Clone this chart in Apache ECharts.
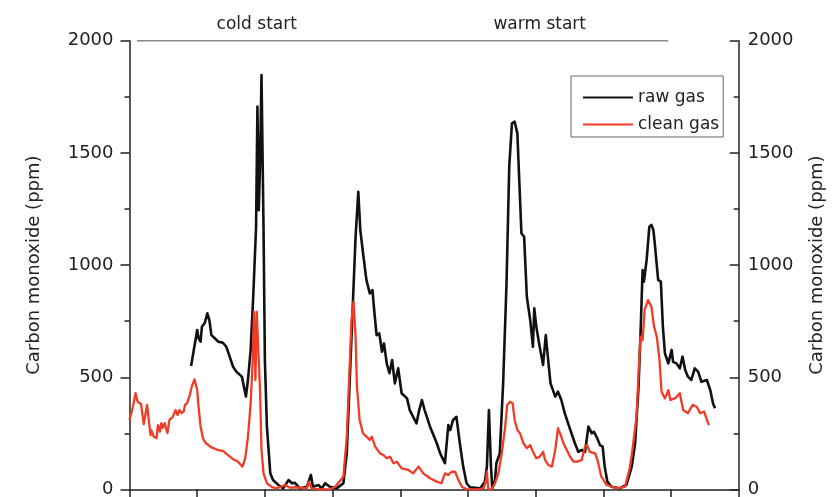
<!DOCTYPE html>
<html>
<head>
<meta charset="utf-8">
<script src="https://cdn.jsdelivr.net/npm/echarts@6/dist/echarts.min.js"></script>
<style>
  html, body { margin: 0; padding: 0; background: #fff; }
  #chart { width: 836px; height: 497px; }
</style>
</head>
<body>
<div id="chart"></div>
<script>
// raw gas (black)
const rawTime = [
  9.1, 9.5, 10.0, 10.2, 10.5, 10.7, 11.1, 11.5, 11.8, 12.1,
  12.6, 13.1, 13.8, 14.3, 14.8, 15.3, 15.8, 16.6, 17.2, 17.5,
  17.9, 18.3, 18.7, 18.9, 19.1, 19.3, 19.5, 19.8, 20.0, 20.3,
  20.8, 21.2, 22.0, 22.7, 23.5, 24.0, 24.4, 25.2, 26.2, 26.8,
  27.1, 27.9, 28.4, 28.9, 29.6, 30.6, 31.6, 32.1, 32.6, 33.0,
  33.4, 33.8, 34.1, 34.3, 34.5, 35.0, 35.5, 35.9, 36.1, 36.5,
  36.9, 37.3, 37.6, 38.0, 38.4, 38.8, 39.2, 39.7, 40.2, 41.0,
  41.4, 42.4, 42.8, 43.2, 43.6, 44.4, 45.4, 45.9, 46.6, 47.1,
  47.4, 47.8, 48.3, 48.8, 49.3, 49.8, 50.3, 51.8, 52.5, 52.8,
  53.1, 53.4, 53.6, 54.0, 54.2, 54.7, 55.2, 55.7, 56.1, 56.5,
  56.9, 57.3, 57.7, 57.9, 58.3, 58.7, 59.2, 59.6, 59.8, 60.1,
  60.6, 61.1, 61.5, 61.9, 62.2, 62.9, 63.3, 63.8, 64.3, 64.8,
  65.3, 65.8, 66.3, 66.8, 67.3, 67.8, 68.0, 68.3, 68.6, 69.0,
  69.5, 69.9, 70.2, 70.6, 71.2, 72.4, 73.4, 74.2, 74.7, 75.2,
  75.5, 75.8, 76.0, 76.4, 76.8, 77.1, 77.4, 77.6, 78.1, 78.5,
  78.8, 79.1, 79.6, 80.1, 80.3, 80.8, 81.3, 81.7, 82.1, 82.5,
  83.0, 83.5, 84.0, 84.5, 85.3, 85.8, 86.2, 86.5
]
const rawCO = [
  550, 622, 711, 674, 659, 725, 741, 785, 755, 688,
  674, 659, 654, 636, 592, 547, 525, 503, 414, 488,
  622, 874, 1171, 1706, 1245, 1468, 1847, 1171, 577, 280,
  72, 42, 20, 5, 42, 28, 30, 5, 12, 65,
  12, 20, 5, 28, 12, 5, 28, 161, 532, 830,
  1126, 1327, 1156, 1149, 1053, 934, 874, 889, 815, 688,
  696, 614, 651, 562, 518, 577, 473, 540, 429, 406,
  354, 295, 354, 399, 354, 280, 206, 161, 117, 287,
  265, 310, 324, 206, 102, 28, 10, 5, 35, 102,
  354, 102, 5, 42, 117, 161, 473, 919, 1438, 1632,
  1639, 1587, 1290, 1142, 1126, 859, 755, 636, 807, 725,
  636, 555, 688, 562, 473, 414, 436, 399, 340, 295,
  250, 206, 168, 176, 168, 280, 287, 250, 258, 235,
  198, 191, 102, 35, 12, 5, 20, 102, 206, 458,
  696, 978, 926, 1023, 1171, 1179, 1156, 1097, 934, 926,
  725, 607, 562, 622, 569, 562, 540, 592, 532, 503,
  488, 540, 525, 480, 488, 443, 384, 362
]

// clean gas (red)
const cleanTime = [
  0, 0.5, 0.9, 1.2, 1.4, 1.7, 1.8, 2.1, 2.6, 3.1,
  3.2, 3.6, 4.0, 4.2, 4.5, 4.7, 4.9, 5.2, 5.6, 5.9,
  6.4, 6.8, 7.1, 7.4, 7.7, 8.0, 8.2, 8.5, 8.9, 9.2,
  9.6, 10.0, 10.2, 10.5, 10.9, 11.3, 12.1, 13.1, 13.8, 14.5,
  15.3, 15.9, 16.7, 17.1, 17.5, 17.9, 18.2, 18.4, 18.6, 18.8,
  19.0, 19.3, 19.5, 19.8, 20.3, 21.0, 21.7, 23.0, 23.7, 24.7,
  26.2, 26.5, 26.9, 28.1, 29.6, 30.4, 30.8, 31.6, 32.1, 32.5,
  32.8, 33.1, 33.4, 33.6, 34.0, 34.5, 35.5, 35.8, 36.3, 37.0,
  37.5, 38.0, 38.5, 39.0, 39.5, 40.2, 41.2, 41.9, 42.7, 43.4,
  44.4, 45.4, 46.1, 46.6, 47.1, 47.6, 48.1, 48.6, 49.1, 49.8,
  51.3, 52.3, 52.7, 52.8, 53.0, 53.5, 54.0, 54.5, 55.0, 55.5,
  55.8, 56.2, 56.6, 56.9, 57.3, 57.7, 58.2, 58.7, 59.2, 59.6,
  60.1, 60.6, 61.1, 61.4, 61.9, 62.4, 62.9, 63.3, 63.8, 64.1,
  64.6, 65.1, 65.6, 66.1, 66.8, 67.3, 67.6, 68.0, 68.8, 69.2,
  69.7, 70.5, 72.0, 73.2, 73.9, 74.3, 74.9, 75.3, 75.5, 75.8,
  76.1, 76.6, 77.1, 77.5, 77.9, 78.3, 78.6, 79.1, 79.6, 79.9,
  80.6, 81.3, 81.8, 82.5, 83.2, 83.8, 84.3, 84.9, 85.3, 85.6
]
const cleanCO = [
  310, 369, 429, 391, 399, 381, 387, 292, 377, 243,
  265, 235, 229, 287, 258, 296, 274, 296, 252, 310,
  324, 354, 332, 354, 341, 347, 377, 384, 421, 458,
  491, 443, 369, 280, 224, 206, 188, 176, 172, 154,
  135, 127, 102, 140, 235, 384, 577, 792, 488, 792,
  785, 430, 176, 72, 28, 12, 5, 20, 8, 10,
  5, 35, 5, 1, 1, 12, 28, 57, 235, 532,
  755, 837, 681, 458, 310, 250, 221, 235, 191, 161,
  154, 139, 146, 117, 124, 94, 87, 72, 102, 72,
  50, 35, 28, 72, 65, 79, 79, 42, 12, 1,
  1, 5, 42, 79, 2, 1, 28, 72, 161, 280,
  377, 391, 384, 310, 265, 250, 206, 184, 198, 168,
  139, 146, 168, 131, 109, 102, 176, 273, 235, 206,
  176, 146, 124, 124, 131, 191, 198, 168, 161, 124,
  57, 20, 5, 12, 94, 176, 324, 577, 681, 666,
  800, 844, 815, 725, 681, 577, 436, 406, 443, 399,
  406, 429, 354, 340, 377, 369, 340, 347, 310, 287
]

// phase annotations above the plot
const phaseLine = [1.1, 79.6]
const phaseNames = ['cold start', 'warm start']
const phaseCenters = [18.8, 60.6]

const FONT = 'DejaVu Sans'
const zip = (xs, ys) => xs.map((x, i) => [x, ys[i]])

const chart = echarts.init(document.getElementById('chart'))

const yAxisBase = {
  type: 'value',
  min: 0,
  max: 2000,
  interval: 500,
  name: 'Carbon monoxide (ppm)',
  nameLocation: 'middle',
  nameRotate: 90,
  nameTextStyle: { fontFamily: FONT, fontSize: 18, color: '#222' },
  axisLine: { show: true, lineStyle: { color: '#222', width: 1.5 } },
  axisTick: { show: true, length: 9, lineStyle: { color: '#222', width: 1.5 } },
  minorTick: { show: true, splitNumber: 2, length: 5, lineStyle: { color: '#222', width: 1.5 } },
  splitLine: { show: false },
  axisLabel: { fontFamily: FONT, fontSize: 18, color: '#222', formatter: v => String(v) }
}

chart.setOption({
  animation: false,
  grid: {
    left: 129.5,
    right: 97.3,
    top: 40.7,
    bottom: 7.5,
    outerBoundsMode: 'none'
  },
  legend: {
    left: 571,
    top: 76,
    orient: 'vertical',
    padding: [12, 4, 3, 12],
    icon: 'rect',
    itemWidth: 50,
    itemHeight: 2,
    itemGap: 8,
    borderColor: '#666',
    borderWidth: 1,
    textStyle: { fontFamily: FONT, fontSize: 17, color: '#222', lineHeight: 19 },
    data: ['raw gas', 'clean gas']
  },
  xAxis: {
    type: 'value',
    min: 0,
    max: 90,
    interval: 10,
    axisLine: { lineStyle: { color: '#222', width: 1.5 } },
    axisTick: { show: true, length: 9, lineStyle: { color: '#222', width: 1.5 } },
    axisLabel: { show: false },
    splitLine: { show: false }
  },
  yAxis: [
    Object.assign({}, yAxisBase, {
      position: 'left',
      nameGap: 86,
      axisLabel: Object.assign({}, yAxisBase.axisLabel, { margin: 16 })
    }),
    Object.assign({}, yAxisBase, {
      position: 'right',
      nameGap: 70,
      axisTick: Object.assign({}, yAxisBase.axisTick, { inside: true }),
      minorTick: Object.assign({}, yAxisBase.minorTick, { inside: true }),
      axisLabel: Object.assign({}, yAxisBase.axisLabel, { margin: 9 })
    })
  ],
  series: [
    {
      name: 'raw gas',
      type: 'line',
      symbol: 'none',
      data: zip(rawTime, rawCO),
      lineStyle: { color: '#111', width: 2.6, join: 'round' },
      itemStyle: { color: '#111' }
    },
    {
      name: 'clean gas',
      type: 'line',
      symbol: 'none',
      data: zip(cleanTime, cleanCO),
      lineStyle: { color: '#f03c26', width: 2.3, join: 'round' },
      itemStyle: { color: '#f03c26' }
    }
  ]
})

// top phase line + labels, placed through the grid's own scale
const p0 = chart.convertToPixel({ gridIndex: 0 }, [phaseLine[0], 2000])
const p1 = chart.convertToPixel({ gridIndex: 0 }, [phaseLine[1], 2000])
const graphics = [{
  type: 'line',
  shape: { x1: p0[0], y1: p0[1], x2: p1[0], y2: p1[1] },
  style: { stroke: '#888', lineWidth: 1.5 }
}]
phaseNames.forEach((name, i) => {
  const p = chart.convertToPixel({ gridIndex: 0 }, [phaseCenters[i], 2000])
  graphics.push({
    type: 'text',
    x: p[0],
    y: p[1] - 16,
    style: {
      text: name,
      fontFamily: FONT,
      fontSize: 17,
      fill: '#222',
      align: 'center',
      verticalAlign: 'middle'
    }
  })
})
chart.setOption({ graphic: graphics })
</script>
</body>
</html>
